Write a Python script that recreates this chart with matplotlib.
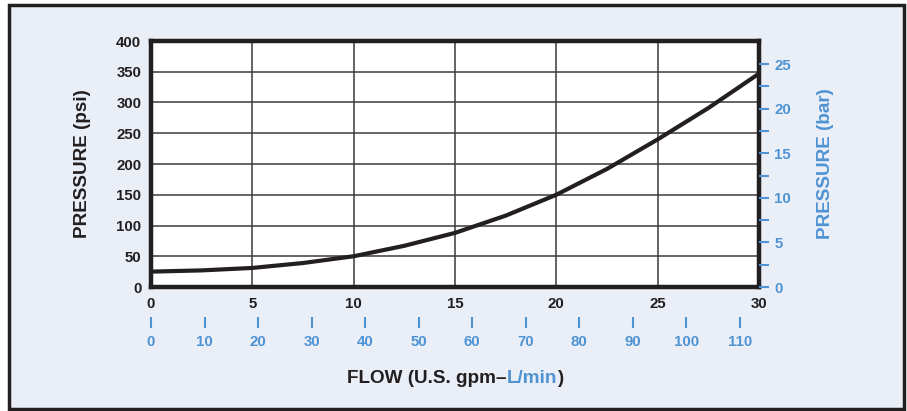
import numpy as np
import matplotlib.pyplot as plt
from matplotlib.patches import Rectangle

# flow (gpm) and pressure (psi)
flow_gpm = [0, 2.5, 5, 7.5, 10, 12.5, 15, 17.5, 20, 22.5, 25, 27.5, 30]
pressure_psi = [25, 27, 31, 39, 50, 67, 88, 116, 150, 192, 240, 291, 347]

gpm_ticks = [0, 5, 10, 15, 20, 25, 30]
psi_ticks = [0, 50, 100, 150, 200, 250, 300, 350, 400]
lpm_ticks = [0, 10, 20, 30, 40, 50, 60, 70, 80, 90, 100, 110]
bar_ticks = [0, 5, 10, 15, 20, 25]
bar_minor = [2.5, 7.5, 12.5, 17.5, 22.5]

PSI_PER_BAR = 14.5038
LPM_PER_GPM = 3.78541

DARK = '#231f20'
BLUE = '#4f93d3'
BG = '#e9eef7'
FONT = ['Liberation Sans', 'DejaVu Sans']
TICK_FS = 10.8
LABEL_FS = 13.6

fig = plt.figure(figsize=(9.07, 4.11), dpi=100)
fig.patch.set_facecolor('white')
fig.patches.append(Rectangle((9 / 907, 1 - 409 / 411), 895 / 907, 404 / 411,
                             transform=fig.transFigure, facecolor=BG,
                             edgecolor=DARK, linewidth=2.5, zorder=-5))

ax = fig.add_axes([151 / 907, 1 - 287 / 411, 608 / 907, 246 / 411])
ax.set_facecolor('white')
ax.plot(flow_gpm, pressure_psi, color=DARK, lw=3, solid_capstyle='butt',
        solid_joinstyle='round', zorder=3, clip_on=False)
ax.set_xlim(0, 30)
ax.set_ylim(0, 400)
ax.set_xticks(gpm_ticks)
ax.set_yticks(psi_ticks)
ax.grid(True, color='#3a3a3a', lw=1.1)
for s in ax.spines.values():
    s.set_linewidth(3.2)
    s.set_color(DARK)
ax.tick_params(length=0, pad=7, colors=DARK)
for lab in ax.get_xticklabels() + ax.get_yticklabels():
    lab.set_family(FONT)
    lab.set_fontweight('bold')
    lab.set_fontsize(TICK_FS)
ax.set_ylabel('PRESSURE (psi)', family=FONT, fontweight='bold', fontsize=LABEL_FS,
              color=DARK, labelpad=18)

# right axis in bar
ax2 = ax.twinx()
ax2.set_ylim(0, 400 / PSI_PER_BAR)
ax2.set_yticks(bar_ticks)
ax2.set_yticks(bar_minor, minor=True)
for s in ax2.spines.values():
    s.set_visible(False)
ax2.tick_params(axis='y', which='both', length=7, width=1.5, color=BLUE,
                labelcolor=BLUE, pad=4)
for lab in ax2.get_yticklabels():
    lab.set_family(FONT)
    lab.set_fontweight('bold')
    lab.set_fontsize(TICK_FS)
ax2.set_ylabel('PRESSURE (bar)', family=FONT, fontweight='bold', fontsize=LABEL_FS,
               color=BLUE, labelpad=19)

# secondary bottom axis in L/min
sec = ax.secondary_xaxis(-0.122, functions=(lambda g: g * LPM_PER_GPM,
                                            lambda l: l / LPM_PER_GPM))
sec.set_xticks(lpm_ticks)
sec.spines['bottom'].set_visible(False)
sec.tick_params(axis='x', length=8, width=1.5, color=BLUE, labelcolor=BLUE, pad=5)
for lab in sec.get_xticklabels():
    lab.set_family(FONT)
    lab.set_fontweight('bold')
    lab.set_fontsize(TICK_FS)

# x label with coloured part
t1 = fig.text(347 / 907, 1 - 378 / 411, 'FLOW (U.S. gpm\u2013', family=FONT,
              fontweight='bold', fontsize=LABEL_FS, color=DARK, va='center', ha='left')
a2 = ax.annotate('L/min', xy=(1, 0), xycoords=t1, va='bottom', ha='left',
                 family=FONT, fontweight='bold', fontsize=LABEL_FS, color=BLUE,
                 annotation_clip=False)
ax.annotate(')', xy=(1, 0), xycoords=a2, va='bottom', ha='left',
            family=FONT, fontweight='bold', fontsize=LABEL_FS, color=DARK,
            annotation_clip=False)

fig.savefig('out.png', dpi=100, facecolor=fig.get_facecolor())
